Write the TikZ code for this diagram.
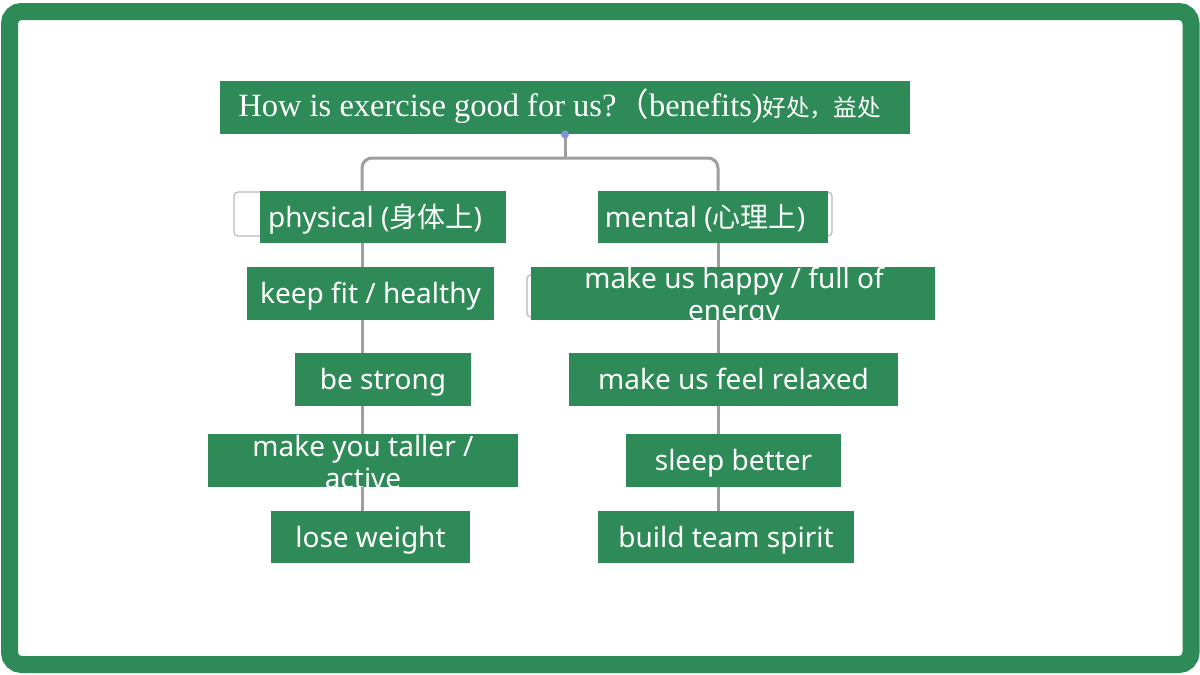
\documentclass[tikz,border=0pt]{standalone}
\usepackage{fontspec}
\setmainfont{Liberation Serif}
\setsansfont{Noto Sans}
\newfontfamily\cjk{Noto Sans CJK SC}
\usetikzlibrary{positioning}
\definecolor{boxgreen}{RGB}{46,139,87}
\definecolor{linegray}{RGB}{158,158,158}
\definecolor{dotblue}{RGB}{125,150,210}
\tikzstyle{bx}=[fill=boxgreen,text=white,inner sep=0pt,text height=11pt,text depth=1pt,
  font=\sffamily\fontsize{14}{16}\selectfont]
\tikzstyle{txt}=[text=white,inner sep=0pt,align=center,font=\sffamily\fontsize{14}{16}\selectfont]
\tikzstyle{ghost}=[draw=gray!55,fill=white,rounded corners=2pt,line width=.6pt]
\tikzstyle{conn}=[draw=linegray,line width=1.5pt]

\begin{document}
\begin{tikzpicture}[x=.5pt,y=-.5pt]
\useasboundingbox[fill=white] (0,0) rectangle (1200,675);
\draw[boxgreen,line width=8.5pt,rounded corners=6pt] (9.5,11.5) rectangle (1191,664.5);
% title
\node[bx,minimum width=345pt,minimum height=26.5pt] (title) at (565,107.5) {};
\node[anchor=base west,text=white,inner sep=0pt,font=\rmfamily\fontsize{16.25}{18}\selectfont]
  (titletext) at (238,116)
  {How is exercise good for us?{\cjk （}benefits){\cjk\fontsize{11.8}{12}\selectfont 好处，益处}};
% ghost frames
\draw[ghost] (234,192) rectangle (490,236);
\draw[ghost] (640,192) rectangle (832,236);
\draw[ghost] (527,275) rectangle (900,317);
% left column
\node[bx,minimum width=123pt,minimum height=26pt] (phys) at (383,217) {physical ({\cjk 身体上})\hspace*{8pt}};
\node[bx,minimum width=123.5pt,minimum height=26.5pt] (keep) at (370.5,293.5) {keep fit / healthy};
\node[bx,minimum width=88pt,minimum height=26.5pt] (strong) at (383,379.5) {be strong};
\node[bx,minimum width=155pt,minimum height=26.5pt] (taller) at (363,460.5) {};
\node[bx,minimum width=99.5pt,minimum height=26pt] (lose) at (370.5,537) {lose weight};
% right column
\node[bx,minimum width=115pt,minimum height=26pt] (ment) at (713,217) {mental ({\cjk 心理上})\hspace*{8pt}};
\node[bx,minimum width=202pt,minimum height=26.5pt] (happy) at (733,293.5) {};
\node[bx,minimum width=164.5pt,minimum height=26.5pt] (relax) at (733.5,379.5) {make us feel relaxed};
\node[bx,minimum width=107.5pt,minimum height=26.5pt] (sleep) at (733.5,460.5) {sleep better};
\node[bx,minimum width=128pt,minimum height=26pt] (team) at (726,537) {build team spirit};
% two-line texts, cut at the box edge
\begin{scope}
\clip (taller.south west) rectangle (taller.north east);
\node[txt] at (363,462) {make you taller /\\active};
\end{scope}
\begin{scope}
\clip (happy.south west) rectangle (happy.north east);
\node[txt] at (734,297) {make us happy / full of\\energy};
\end{scope}
% connectors
\coordinate (lx) at (362,0);
\coordinate (rx) at (718,0);
\coordinate (split) at (565,158);
\draw[conn] (title.south) -- (split);
\draw[conn,rounded corners=5pt] (phys.north -| lx) |- (split) -| (ment.north -| rx);
\foreach \a/\b in {phys/keep,keep/strong,strong/taller,taller/lose}
  \draw[conn] (\a.south -| lx) -- (\b.north -| lx);
\foreach \a/\b in {ment/happy,happy/relax,relax/sleep,sleep/team}
  \draw[conn] (\a.south -| rx) -- (\b.north -| rx);
\fill[dotblue] (title.south) circle (2pt);
\end{tikzpicture}
\end{document}
